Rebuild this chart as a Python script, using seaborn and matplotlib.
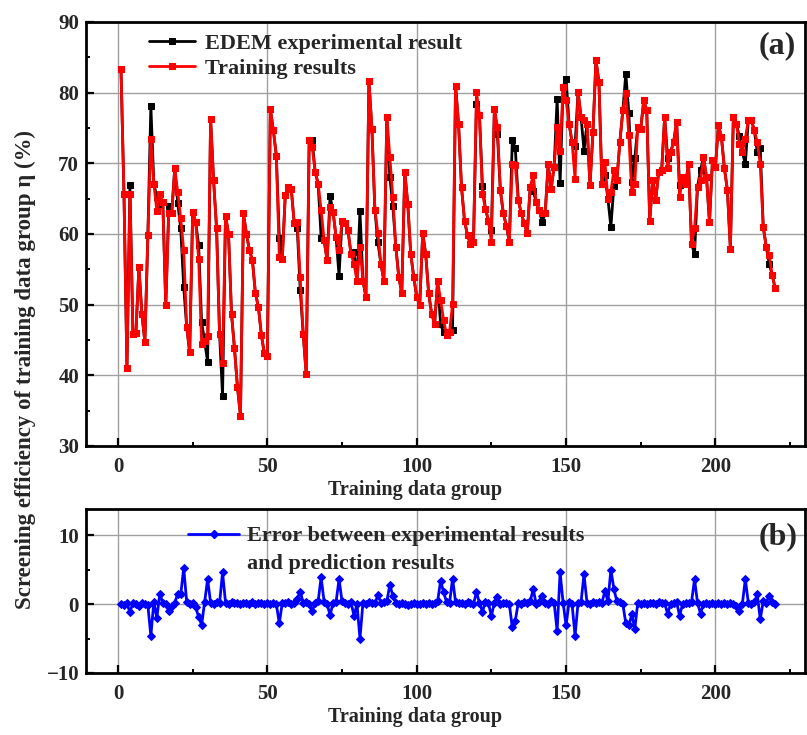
import numpy as np
import pandas as pd
import seaborn as sns
import matplotlib.pyplot as plt
from matplotlib.lines import Line2D
from matplotlib.ticker import MultipleLocator

# Screening efficiency (%) for each training data group
train_results = [
    83.4, 65.7, 41.0, 65.7, 45.9, 46.0, 55.3, 48.7, 44.7, 59.8,
    73.5, 67.1, 63.3, 65.7, 64.5, 49.9, 62.9, 63.0, 69.3, 65.9,
    62.2, 57.7, 46.8, 43.3, 63.1, 61.7, 56.5, 44.5, 44.8, 45.5,
    76.3, 67.6, 60.8, 45.9, 41.7, 62.6, 60.0, 48.7, 43.8, 38.3,
    34.3, 62.9, 60.0, 57.7, 56.3, 51.6, 49.7, 45.7, 43.1, 42.8,
    77.7, 74.7, 71.1, 56.7, 56.5, 65.5, 66.7, 66.4, 61.5, 61.7,
    53.9, 45.9, 40.2, 73.3, 72.3, 68.8, 67.1, 63.4, 59.1, 56.3,
    63.8, 63.1, 59.6, 57.7, 61.9, 61.5, 60.5, 57.2, 55.8, 53.4,
    58.2, 53.4, 51.1, 81.7, 74.9, 63.4, 60.1, 55.8, 53.4, 76.6,
    70.9, 65.2, 58.2, 53.9, 51.6, 68.8, 64.3, 57.2, 53.9, 51.1,
    49.9, 60.1, 57.2, 51.6, 48.7, 47.3, 53.4, 50.6, 47.8, 45.7,
    46.2, 50.1, 81.0, 75.6, 66.6, 61.9, 59.8, 58.6, 58.8, 80.1,
    76.8, 65.7, 63.6, 61.9, 58.9, 77.7, 75.2, 66.2, 62.9, 61.2,
    58.9, 69.9, 69.7, 64.8, 62.9, 61.5, 60.1, 66.7, 68.3, 64.5,
    63.4, 62.9, 62.9, 69.9, 66.4, 69.5, 75.2, 71.8, 80.8, 78.9,
    75.6, 73.0, 67.8, 80.1, 76.6, 76.1, 75.6, 66.9, 74.4, 84.6,
    81.5, 67.1, 70.2, 65.0, 66.0, 69.0, 67.6, 73.0, 77.5, 79.9,
    74.0, 65.9, 67.1, 75.2, 74.9, 78.9, 77.5, 61.9, 67.6, 64.8,
    68.8, 69.0, 76.6, 69.3, 71.6, 73.0, 75.9, 65.2, 68.1, 67.1,
    69.9, 58.6, 60.8, 66.7, 67.6, 70.9, 68.1, 61.7, 70.4, 69.5,
    75.4, 73.7, 69.3, 66.2, 57.9, 76.6, 75.6, 72.8, 71.6, 73.5,
    76.1, 76.1, 74.7, 73.0, 69.9, 61.0, 58.2, 57.0, 54.2, 52.3,
]

edem_results = [
    83.4, 65.7, 41.0, 66.9, 45.9, 46.0, 55.3, 48.7, 44.7, 59.8,
    78.1, 67.1, 65.3, 64.2, 64.5, 49.9, 63.9, 63.0, 69.3, 64.4,
    60.8, 52.5, 46.8, 43.3, 63.1, 61.7, 58.4, 47.5, 44.8, 41.9,
    76.3, 67.6, 60.8, 45.9, 37.1, 62.6, 60.0, 48.7, 43.8, 38.3,
    34.3, 62.9, 60.0, 57.7, 56.3, 51.6, 49.7, 45.7, 43.1, 42.8,
    77.7, 74.7, 71.1, 59.5, 56.5, 65.5, 66.7, 66.4, 61.5, 60.9,
    52.1, 45.9, 40.2, 73.3, 73.3, 68.8, 67.1, 59.5, 59.1, 56.3,
    65.4, 63.1, 59.6, 54.1, 61.9, 61.5, 60.5, 57.2, 57.5, 53.4,
    63.2, 53.4, 51.1, 81.7, 74.9, 63.4, 58.8, 55.8, 53.4, 76.6,
    68.1, 64.0, 58.2, 53.9, 51.6, 68.8, 64.3, 57.2, 53.9, 51.1,
    49.9, 60.1, 57.2, 51.6, 48.7, 47.3, 53.4, 47.2, 46.1, 45.7,
    46.2, 46.4, 81.0, 75.6, 66.6, 61.9, 59.8, 58.6, 58.8, 78.4,
    76.8, 66.8, 63.6, 61.9, 60.6, 77.7, 74.2, 66.2, 62.9, 61.2,
    58.9, 73.3, 72.1, 64.8, 62.9, 61.5, 60.1, 66.7, 66.1, 64.5,
    63.4, 61.7, 62.9, 69.9, 66.4, 69.5, 79.1, 67.2, 80.8, 82.0,
    75.6, 73.0, 72.4, 80.1, 76.6, 71.8, 75.6, 66.9, 74.4, 84.6,
    81.5, 67.1, 68.3, 65.0, 61.0, 66.8, 67.6, 73.0, 77.5, 82.7,
    77.1, 67.4, 70.7, 75.2, 74.9, 78.9, 77.5, 61.9, 67.6, 64.8,
    68.8, 69.0, 76.6, 70.7, 71.6, 73.0, 75.9, 66.9, 68.1, 67.1,
    69.9, 58.6, 57.2, 66.7, 69.0, 70.9, 68.1, 61.7, 70.4, 69.5,
    75.4, 73.7, 69.3, 66.2, 57.9, 76.6, 75.6, 73.8, 71.6, 69.9,
    76.1, 76.1, 74.7, 71.6, 72.1, 61.0, 58.2, 55.8, 54.2, 52.3,
]

# Error between the two series for each group
error_values = [
    0.0, -0.1, 0.1, -1.2, 0.2, 0.0, -0.3, 0.1, 0.0, -0.2,
    -4.6, 0.3, -2.0, 1.5, 0.2, 0.0, -1.0, -0.3, 0.2, 1.5,
    1.4, 5.2, 0.3, 0.0, 0.2, -0.4, -1.9, -3.0, 0.3, 3.6,
    0.2, 0.0, 0.3, 0.1, 4.6, 0.2, 0.0, 0.3, 0.1, 0.2,
    0.0, 0.2, 0.1, 0.0, 0.3, 0.0, 0.1, 0.2, 0.0, 0.1,
    0.0, 0.2, 0.0, -2.8, 0.2, 0.1, 0.3, 0.0, 0.2, 0.8,
    1.8, 0.2, 0.3, 0.0, -1.0, 0.2, 0.4, 3.9, 0.3, 0.0,
    -1.6, 0.2, 0.3, 3.6, 0.4, 0.2, 0.0, 0.3, -1.7, 0.0,
    -5.0, 0.2, 0.0, 0.3, 0.2, 0.1, 1.3, 0.2, 0.3, 0.4,
    2.8, 1.2, 0.2, 0.0, 0.1, 0.0, -0.1, 0.0, 0.1, 0.0,
    0.0, 0.1, 0.0, 0.1, 0.0, 0.2, 0.4, 3.4, 1.7, 0.3,
    0.2, 3.7, 0.3, 0.1, 0.2, 0.0, 0.3, 0.2, 0.0, 1.7,
    0.2, -1.1, 0.3, 0.1, -1.7, 0.2, 1.0, 0.0, 0.2, 0.1,
    0.0, -3.4, -2.4, 0.2, 0.0, 0.3, 0.2, 0.4, 2.2, 0.0,
    0.3, 1.2, 0.2, 0.0, 0.4, 0.2, -3.9, 4.6, 0.2, -3.1,
    0.3, 0.0, -4.6, 0.2, 0.3, 4.3, 0.2, 0.0, 0.3, 0.2,
    0.3, 0.2, 1.9, 0.4, 5.0, 2.2, 0.4, 0.3, 0.0, -2.8,
    -3.1, -1.5, -3.6, 0.2, 0.0, 0.1, 0.0, 0.2, 0.1, 0.0,
    0.3, 0.2, 0.1, -1.4, 0.0, 0.2, 0.3, -1.7, 0.0, 0.2,
    0.1, 0.3, 3.6, 0.2, -1.4, 0.0, 0.1, 0.0, 0.2, 0.0,
    0.1, 0.0, 0.2, 0.0, 0.1, 0.0, -0.3, -1.0, 0.0, 3.6,
    0.2, 0.0, 0.3, 1.4, -2.2, 0.4, 0.2, 1.2, 0.3, 0.0,
]

groups = list(range(1, len(train_results) + 1))

df = pd.DataFrame({
    "group": groups,
    "edem": edem_results,
    "train": train_results,
    "error": error_values,
})

sns.set_theme(style="white")
plt.rcParams["font.family"] = ["Liberation Serif", "DejaVu Serif"]
plt.rcParams["font.weight"] = "bold"
plt.rcParams["axes.labelweight"] = "bold"

fig = plt.figure(figsize=(8.07, 7.35), dpi=100)
ax1 = fig.add_axes([0.1066, 0.3932, 0.891, 0.5769])
ax2 = fig.add_axes([0.1066, 0.0844, 0.891, 0.2231])

sns.lineplot(data=df, x="group", y="edem", ax=ax1, color="black", lw=2.0,
             marker="s", markersize=4, markeredgecolor="black",
             label="EDEM experimental result", zorder=3)
sns.lineplot(data=df, x="group", y="train", ax=ax1, color="red", lw=2.0,
             marker="s", markersize=4, markeredgecolor="red",
             label="Training results", zorder=4)
sns.lineplot(data=df, x="group", y="error", ax=ax2, color="blue", lw=2.0,
             marker="D", markersize=4.5, markeredgecolor="blue",
             label="Error", zorder=3)

tick_font = 15
for ax in (ax1, ax2):
    ax.set_xlim(-10.7, 230)
    ax.xaxis.set_major_locator(MultipleLocator(50))
    ax.xaxis.set_minor_locator(MultipleLocator(25))
    ax.yaxis.set_major_locator(MultipleLocator(10))
    ax.yaxis.set_minor_locator(MultipleLocator(5))
    ax.grid(True, which="major", color="#a0a0a0", lw=1.0)
    ax.set_axisbelow(True)
    for sp in ax.spines.values():
        sp.set_color("black")
        sp.set_linewidth(2.0)
    ax.tick_params(axis="both", which="major", direction="in", length=6,
                   width=1.6, color="black", labelsize=tick_font,
                   bottom=True, left=True, top=False, right=False)
    ax.tick_params(axis="both", which="minor", direction="in", length=3,
                   width=1.4, color="black",
                   bottom=True, left=True, top=False, right=False)
    ax.tick_params(axis="x", pad=8)
    ax.tick_params(axis="y", pad=5)
    ax.set_xlabel("Training data group", fontsize=14.5, fontweight="bold",
                  labelpad=2)
    ax.xaxis.label.set_x(0.458)
    ax.set_ylabel("")

ax1.set_ylim(30, 90)
ax2.set_ylim(-10, 13.8)
ax2.set_yticks([-10, 0, 10])

legend_font = {"family": ["Liberation Serif"], "weight": "bold", "size": 16}
ax1.legend(loc="upper left", bbox_to_anchor=(0.087, 0.974), frameon=False,
           prop=legend_font, handlelength=2.1, handletextpad=0.45,
           labelspacing=0.2, borderpad=0, borderaxespad=0)

err_handle = Line2D([], [], color="blue", lw=2.0, marker="D", markersize=4.5)
blank_handle = Line2D([], [], color="none")
ax2.legend([err_handle, blank_handle],
           ["Error between experimental results", "and prediction results"],
           loc="upper left", bbox_to_anchor=(0.142, 0.897), frameon=False,
           prop=legend_font, handlelength=2.3, handletextpad=0.35,
           labelspacing=0.3, borderpad=0, borderaxespad=0)

ax1.text(0.962, 0.945, "(a)", transform=ax1.transAxes, ha="center",
         va="center", fontsize=23, fontweight="bold")
ax2.text(0.962, 0.83, "(b)", transform=ax2.transAxes, ha="center",
         va="center", fontsize=23, fontweight="bold")

fig.text(0.031, 0.497, "Screening efficiency of training data group η (%)",
         rotation=90, ha="center", va="center", fontsize=16.5,
         fontweight="bold")

fig.savefig("out.png", dpi=100)
